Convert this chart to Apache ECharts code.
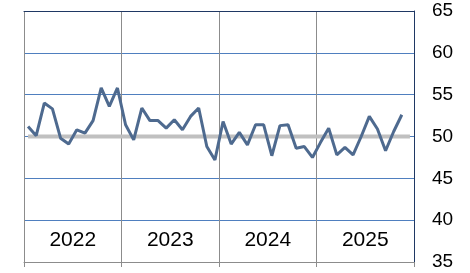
<!DOCTYPE html>
<html><head><meta charset="utf-8">
<script src="https://cdn.jsdelivr.net/npm/echarts@6/dist/echarts.min.js"></script>
<style>html,body{margin:0;padding:0;background:#fff}#c{width:470px;height:273px}</style>
</head><body><div id="c"></div>
<script>
const years = ['2022', '2023', '2024', '2025'];
const months = [];
years.forEach(y => { for (let m = 1; m <= 12; m++) months.push(y + '-' + (m < 10 ? '0' + m : m)); });
const values = [
  51.2, 50.1, 54.0, 53.3, 49.8, 49.1, 50.8, 50.4, 51.9, 55.8, 53.6, 55.8,
  51.4, 49.6, 53.4, 51.9, 51.9, 51.0, 52.0, 50.8, 52.4, 53.4, 48.8, 47.2,
  51.8, 49.1, 50.5, 49.0, 51.4, 51.4, 47.7, 51.3, 51.4, 48.6, 48.8, 47.5,
  49.3, 51.0, 47.8, 48.7, 47.8, 50.0, 52.4, 50.9, 48.3, 50.6, 52.6
];
const refLevel = 50;
const refLine = months.map(() => refLevel);
const yTicks = { min: 35, max: 65, interval: 5 };

const chart = echarts.init(document.getElementById('c'), null, { renderer: 'canvas' });
chart.setOption({
  animation: false,
  grid: { left: 24, right: 56, top: 11, bottom: 11, containLabel: false },
  xAxis: [
    { type: 'category', data: months, boundaryGap: true, show: false },
    {
      type: 'category', data: years, boundaryGap: true, position: 'bottom',
      axisLine: { show: true, lineStyle: { color: '#8c8c8c', width: 1 } },
      axisTick: { show: true, length: 5, lineStyle: { color: '#8c8c8c' } },
      axisLabel: { show: true, inside: true, margin: 11, fontSize: 21, color: '#000', fontFamily: 'Liberation Sans, Arial, sans-serif' },
      splitLine: { show: true, lineStyle: { color: '#8c8c8c', width: 1 } }
    },
    {
      type: 'category', data: years, position: 'top',
      axisLine: { show: true, lineStyle: { color: '#1f3864', width: 1 } },
      axisTick: { show: false }, axisLabel: { show: false }, splitLine: { show: false }
    }
  ],
  yAxis: {
    type: 'value', position: 'right', min: yTicks.min, max: yTicks.max, interval: yTicks.interval,
    axisLine: { show: true, lineStyle: { color: '#1f3864', width: 1 } },
    axisTick: { show: false },
    axisLabel: { margin: 18, fontSize: 19, color: '#000', fontFamily: 'Liberation Sans, Arial, sans-serif' },
    splitLine: { show: true, lineStyle: { color: '#4f7fbf', width: 1 } }
  },
  series: [
    { type: 'line', data: refLine, xAxisIndex: 0, symbol: 'none', silent: true,
      lineStyle: { color: '#c0c0c0', width: 4 }, z: 10 },
    { type: 'line', data: values, xAxisIndex: 0, symbol: 'none',
      lineStyle: { color: '#4e6a8f', width: 3 }, z: 11 }
  ]
});
</script></body></html>
